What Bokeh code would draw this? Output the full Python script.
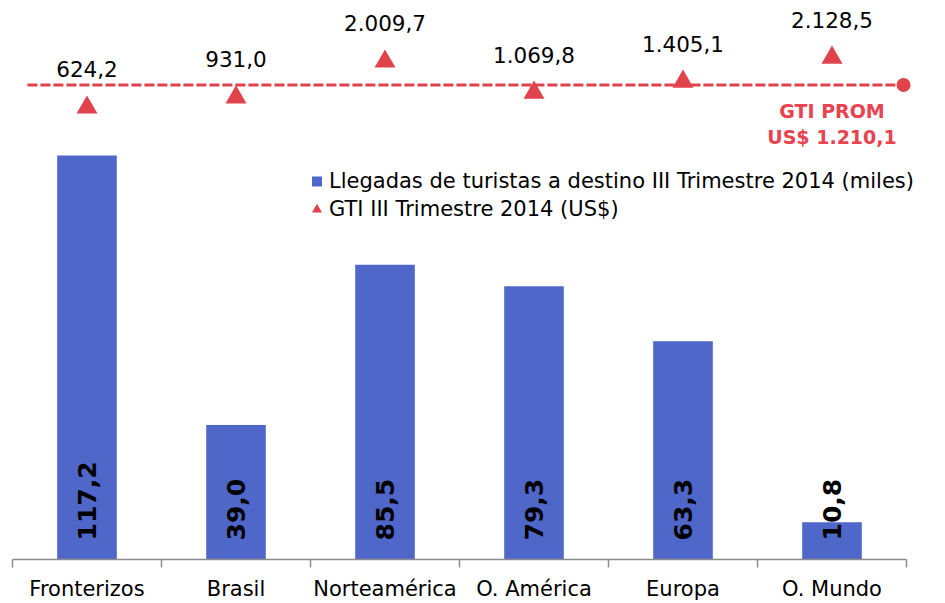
import math
from bokeh.plotting import figure
from bokeh.models import Range1d, FixedTicker, Legend, LegendItem
from bokeh.embed import file_html
from bokeh.resources import INLINE
from bokeh.core.properties import value

# ---------------- data ----------------
categories = ["Fronterizos", "Brasil", "Norteamérica", "O. América", "Europa", "O. Mundo"]
llegadas = [117.2, 39.0, 85.5, 79.3, 63.3, 10.8]          # miles
gti = [624.2, 931.0, 2009.7, 1069.8, 1405.1, 2128.5]       # US$
gti_prom = 1210.1
legend_labels = ["Llegadas de turistas a destino III Trimestre 2014 (miles)",
                 "GTI III Trimestre 2014 (US$)"]


def es(v):
    s = f"{v:,.1f}"
    return s.replace(",", "X").replace(".", ",").replace("X", ".")


llegadas_labels = [es(v) for v in llegadas]
gti_labels = [es(v) for v in gti]
prom_label = "GTI PROM\nUS$ " + es(gti_prom)

# ---------------- style / layout ----------------
BLUE = "#4F67C8"
RED = "#E0434B"
RED_TXT = "#E8434F"
FONT = "DejaVu Sans"

n = len(categories)
centers = [i + 0.5 for i in range(n)]

CAT_W = 894            # pixel width of the category band
EXTRA_W = 23           # room to the right of the last category (legend overflow)
FRAME_W = CAT_W + EXTRA_W
FRAME_H = 551

# secondary scale (pixels from frame top)
GTI_PX_PER_UNIT = 0.033201
GTI_ZERO_PX = 116.72
TRI_SHIFT = 3.03  # triangle centroid vs bbox centre

gti_range = Range1d((GTI_ZERO_PX - FRAME_H) / GTI_PX_PER_UNIT, GTI_ZERO_PX / GTI_PX_PER_UNIT)
tri_range = Range1d((GTI_ZERO_PX + TRI_SHIFT - FRAME_H) / GTI_PX_PER_UNIT,
                    (GTI_ZERO_PX + TRI_SHIFT) / GTI_PX_PER_UNIT)

LINE_X0, LINE_X1 = 0.10, 5.98

p = figure(x_range=Range1d(0, n + EXTRA_W * n / CAT_W), y_range=Range1d(0, 159.85),
           frame_width=FRAME_W, frame_height=FRAME_H,
           min_border_left=12, min_border_right=0, min_border_top=8, min_border_bottom=0,
           x_axis_location="below", y_axis_location=None,
           output_backend="svg", toolbar_location=None)
p.extra_y_ranges = {"gti": gti_range, "tri": tri_range}
p.grid.visible = False
p.outline_line_color = None
p.background_fill_color = "white"
p.border_fill_color = "white"

ax = p.xaxis[0]
ax.bounds = (0, n)
ax.ticker = FixedTicker(ticks=centers, minor_ticks=list(range(n + 1)))
ax.major_label_overrides = {c: name for c, name in zip(centers, categories)}
ax.major_tick_line_color = None
ax.major_tick_out = 8
ax.major_tick_in = 0
ax.minor_tick_out = 8
ax.minor_tick_in = 0
ax.minor_tick_line_color = "#8C8C8C"
ax.minor_tick_line_width = 1.5
ax.axis_line_color = "#8C8C8C"
ax.axis_line_width = 1.5
ax.major_label_standoff = 9
ax.major_label_text_font = FONT
ax.major_label_text_font_size = "21px"
ax.major_label_text_color = "black"

# bars
p.vbar(x=centers, top=llegadas, width=0.4, color=BLUE, line_color=None)

# bar labels (rotated, at the base)
p.text(x=centers, y=[0] * n, text=llegadas_labels, angle=math.pi / 2,
       text_align="left", text_baseline="middle", y_offset=-19,
       text_font=value(FONT), text_font_style="bold", text_font_size="25px",
       text_color="black")

# average line and end point
p.line(x=[LINE_X0, LINE_X1], y=[gti_prom, gti_prom], y_range_name="gti",
       line_color=RED, line_width=3, line_dash="10 3")
p.scatter(x=[LINE_X1], y=[gti_prom], y_range_name="gti", marker="circle",
          size=14, color=RED, line_color=None)

# GTI triangles
r_tri = p.scatter(x=centers, y=gti, y_range_name="tri", marker="triangle",
                  size=21, color=RED, line_color=None)

# GTI labels
p.text(x=centers, y=gti, text=gti_labels, y_range_name="gti",
       text_align="center", text_baseline="alphabetic", y_offset=-35,
       text_font=value(FONT), text_font_size="21.5px", text_color="black")

# GTI PROM label
p.text(x=[centers[-1]], y=[gti_prom], text=[prom_label], y_range_name="gti",
       y_offset=39, text_align="center", text_baseline="middle",
       text_font=value(FONT), text_font_style="bold", text_font_size="19px",
       text_color=RED_TXT, text_line_height=1.2)

# legend (square proxy for the bars, placed outside the visible range)
r_sq = p.scatter(x=[-1], y=[-1], marker="square", size=10, color=BLUE, line_color=None)
legend = Legend(items=[LegendItem(label=legend_labels[0], renderers=[r_sq]),
                       LegendItem(label=legend_labels[1], renderers=[r_tri])],
                location=(292, 337), orientation="vertical",
                glyph_width=25, glyph_height=26, label_height=26,
                label_standoff=-2, spacing=2, padding=0, margin=0,
                border_line_color=None, background_fill_alpha=0,
                label_text_font=FONT, label_text_font_size="21px",
                label_text_color="black")
p.add_layout(legend)

open("out.html", "w").write(file_html(p, INLINE, "chart"))
